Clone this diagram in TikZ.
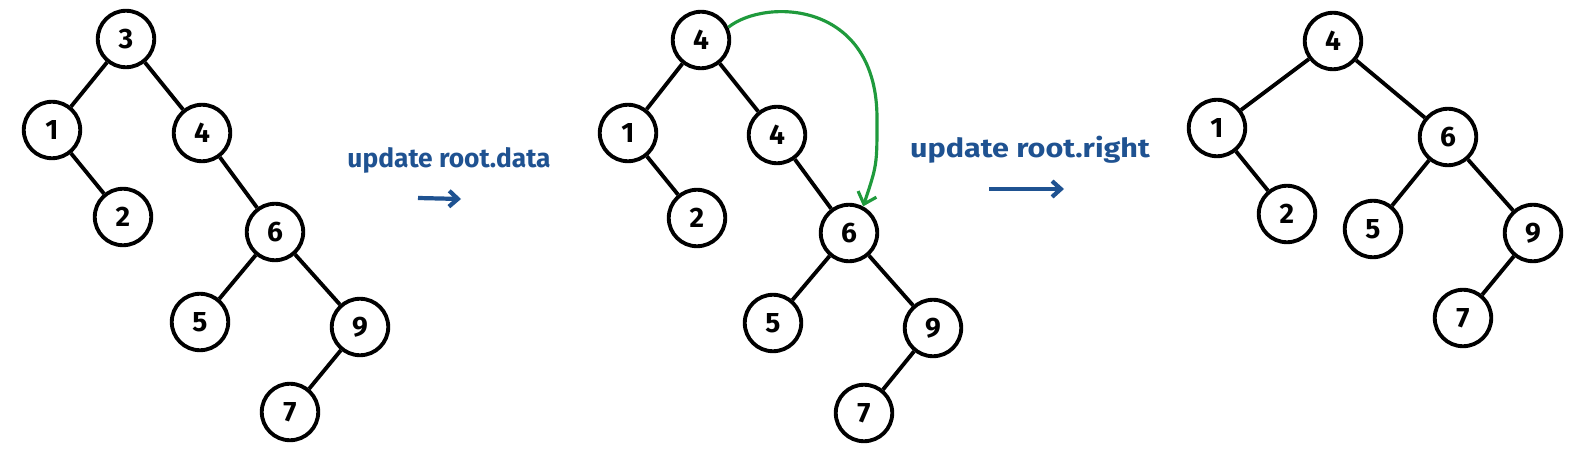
\documentclass[tikz,border=0pt]{standalone}
\usepackage{fontspec}
\setmainfont{Fira Sans}
\usetikzlibrary{arrows.meta}
\definecolor{inkblue}{HTML}{1F5291}
\definecolor{inkgreen}{HTML}{1F9A3C}
\tikzset{
  tn/.style={circle,draw=black,line width=2.2pt,minimum size=1.13cm,inner sep=0pt,font=\fontsize{16}{16}\selectfont\bfseries},
  te/.style={draw=black,line width=2.2pt},
  lbl/.style={text=inkblue,font=\fontsize{15}{15}\selectfont\bfseries,inner sep=0pt},
  barrow/.style={draw=inkblue,line width=2.4pt,-{Straight Barb[length=5pt,width=9pt]}},
  garrow/.style={draw=inkgreen,line width=1.8pt,-{Straight Barb[length=6pt,width=11pt]}}
}
\begin{document}
\begin{tikzpicture}[x=0.02cm,y=-0.02cm]
\useasboundingbox (0,0) rectangle (1569,449);
% tree 1
\node[tn] (a3) at (126,39) {3};
\node[tn] (a1) at (52,130) {1};
\node[tn] (a4) at (202,133) {4};
\node[tn] (a2) at (123,217) {2};
\node[tn] (a6) at (275,232) {6};
\node[tn] (a5) at (200,322) {5};
\node[tn] (a9) at (360,327) {9};
\node[tn] (a7) at (290,412) {7};
\draw[te] (a3) -- (a1); \draw[te] (a3) -- (a4);
\draw[te] (a1) -- (a2); \draw[te] (a4) -- (a6);
\draw[te] (a6) -- (a5); \draw[te] (a6) -- (a9);
\draw[te] (a9) -- (a7);
% label 1
\node[lbl] (l1) at (449,160) {update root.data};
\coordinate (l1s) at (418,198);
\coordinate (l1e) at (461,199);
\draw[barrow] (l1s) -- (l1e);
% tree 2
\node[tn] (b4) at (701,40) {4};
\node[tn] (b1) at (628,133) {1};
\node[tn] (b4b) at (777,135) {4};
\node[tn] (b2) at (697,218) {2};
\node[tn] (b6) at (849,233) {6};
\node[tn] (b5) at (773,323) {5};
\node[tn] (b9) at (933,328) {9};
\node[tn] (b7) at (864,413) {7};
\draw[te] (b4) -- (b1); \draw[te] (b4) -- (b4b);
\draw[te] (b1) -- (b2); \draw[te] (b4b) -- (b6);
\draw[te] (b6) -- (b5); \draw[te] (b6) -- (b9);
\draw[te] (b9) -- (b7);
\draw[garrow] (b4.25) .. controls (765,-2) and (878,0) .. (877,120) .. controls (877,165) .. (b6.62);
% label 2
\node[lbl] (l2) at (1030,150) {\scalebox{1.16}[1]{update root.right}};
\coordinate (l2s) at (989,189);
\coordinate (l2e) at (1064,189);
\draw[barrow] (l2s) -- (l2e);
% tree 3
\node[tn] (c4) at (1333,41) {4};
\node[tn] (c1) at (1217,128) {1};
\node[tn] (c6) at (1448,137) {6};
\node[tn] (c2) at (1287,214) {2};
\node[tn] (c5) at (1373,229) {5};
\node[tn] (c9) at (1533,233) {9};
\node[tn] (c7) at (1463,318) {7};
\draw[te] (c4) -- (c1); \draw[te] (c4) -- (c6);
\draw[te] (c1) -- (c2); \draw[te] (c6) -- (c5);
\draw[te] (c6) -- (c9); \draw[te] (c9) -- (c7);
\end{tikzpicture}
\end{document}
